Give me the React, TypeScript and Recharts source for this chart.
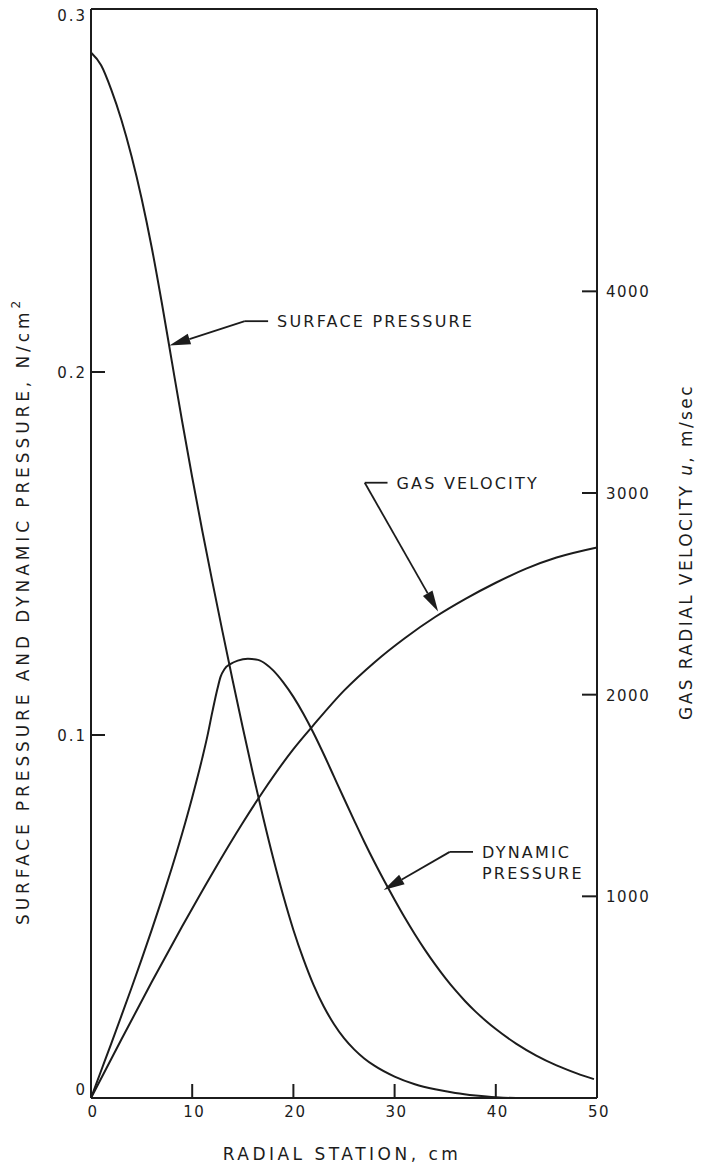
import { LineChart, Line, XAxis, YAxis, ReferenceLine } from "recharts";

const stationTicks = [0, 10, 20, 30, 40, 50];
const pressureTicks = [0, 0.1, 0.2, 0.3];
const velocityTicks = [1000, 2000, 3000, 4000];

// surface pressure, N/cm2
const surfaceX = [0, 1, 2, 3, 4, 5, 6, 7, 8, 9, 10, 11, 12, 13, 14, 15, 16, 17, 18, 19, 20, 21, 22, 23, 24, 25, 26, 27, 28, 30, 32, 34, 36, 38, 40, 42, 50];
const surfaceP = [0.288, 0.2845, 0.2778, 0.2695, 0.2595, 0.2478, 0.2343, 0.219, 0.2027, 0.1865, 0.171, 0.1562, 0.1421, 0.1284, 0.115, 0.102, 0.0894, 0.0774, 0.0661, 0.0557, 0.0463, 0.0382, 0.0311, 0.0252, 0.0204, 0.0165, 0.0134, 0.0109, 0.0089, 0.0059, 0.0038, 0.0024, 0.0014, 0.0007, 0.0002, 0, 0];

// dynamic pressure, N/cm2
const dynamicX = [0, 1, 2, 3, 4, 5, 6, 7, 8, 9, 10, 11, 11.5, 12, 12.5, 12.8, 13.2, 13.8, 14.5, 15.5, 16.5, 17.3, 18, 19, 20, 21, 22, 23, 24, 25, 26, 27, 28, 29, 30, 31, 32, 33, 34, 35, 36, 37, 38, 39, 40, 42, 44, 46, 48, 49.7];
const dynamicP = [0, 0.0075, 0.015, 0.0226, 0.0303, 0.0382, 0.0463, 0.0547, 0.0635, 0.0728, 0.0828, 0.0937, 0.0997, 0.1065, 0.1128, 0.116, 0.1182, 0.1196, 0.1205, 0.121, 0.1207, 0.1195, 0.1178, 0.1145, 0.1105, 0.1058, 0.1005, 0.0947, 0.0886, 0.0825, 0.0765, 0.0706, 0.065, 0.0597, 0.0546, 0.0497, 0.0451, 0.0408, 0.0368, 0.0331, 0.0297, 0.0266, 0.0238, 0.0213, 0.019, 0.015, 0.0117, 0.009, 0.0068, 0.0052];

// gas radial velocity, m/sec
const velocityX = [0, 3, 6, 9, 12, 15, 17, 20, 22, 25, 28, 31, 34, 37, 40, 43, 46, 50];
const velocityU = [0, 290, 575, 850, 1115, 1365, 1520, 1730, 1850, 2020, 2160, 2280, 2385, 2475, 2555, 2625, 2680, 2730];

const surface = surfaceX.map((x, i) => ({ x, p: surfaceP[i] }));
const dynamic = dynamicX.map((x, i) => ({ x, p: dynamicP[i] }));
const velocity = velocityX.map((x, i) => ({ x, u: velocityU[i] }));

const INK = "#1c1c1c";
const FONT = "'DejaVu Sans', sans-serif";
const txt = { fontFamily: FONT, fill: INK, stroke: "none" } as const;

const LeftTick = ({ x, y, payload }: any) => {
  const v = payload.value;
  const dy = v === 0.3 ? 7 : v === 0 ? -8 : 1;
  return (
    <text x={x + 3} y={y + dy} textAnchor="end" dominantBaseline="central" fontSize={15} letterSpacing={2} {...txt}>
      {v === 0 ? "0" : v.toFixed(1)}
    </text>
  );
};

const RightTick = ({ x, y, payload }: any) => (
  <text x={x} y={y + 1} textAnchor="start" dominantBaseline="central" fontSize={15} letterSpacing={1.5} {...txt}>
    {payload.value}
  </text>
);

const BottomTick = ({ x, y, payload }: any) => (
  <text x={x + 2} y={y + 6} textAnchor="middle" dominantBaseline="central" fontSize={15} letterSpacing={1.5} {...txt}>
    {payload.value}
  </text>
);

// inward tick marks, drawn from the reference line geometry
const leftMark = ({ x1, x2, y1 }: any) => {
  const a = Math.min(x1, x2);
  return <line x1={a} y1={y1} x2={a + 14} y2={y1} stroke={INK} strokeWidth={2} />;
};
const rightMark = ({ x1, x2, y1 }: any) => {
  const a = Math.max(x1, x2);
  return <line x1={a - 15} y1={y1} x2={a} y2={y1} stroke={INK} strokeWidth={2} />;
};
const bottomMark = ({ x1, y1, y2 }: any) => {
  const b = Math.max(y1, y2);
  return <line x1={x1} y1={b} x2={x1} y2={b - 14} stroke={INK} strokeWidth={2} />;
};

const Arrow = ({ x1, y1, x2, y2 }: any) => {
  const a = Math.atan2(y2 - y1, x2 - x1);
  const len = 21;
  const w = 5.5;
  const bx = x2 - len * Math.cos(a);
  const by = y2 - len * Math.sin(a);
  const px = -Math.sin(a) * w;
  const py = Math.cos(a) * w;
  return (
    <g>
      <line x1={x1} y1={y1} x2={bx} y2={by} stroke={INK} strokeWidth={1.8} />
      <polygon points={`${x2},${y2} ${bx + px},${by + py} ${bx - px},${by - py}`} fill={INK} />
    </g>
  );
};

const Tag = (lines: string[]) => ({ x1, y1, x2, y2 }: any) => (
  <g>
    <line x1={x1} y1={y1} x2={x2} y2={y2} stroke={INK} strokeWidth={1.8} />
    <text x={x2 + 9} y={y2} dominantBaseline="central" fontSize={16} letterSpacing={2.2} {...txt}>
      {lines.map((l, i) => (
        <tspan key={i} x={x2 + 9} dy={i === 0 ? 0 : 21}>
          {l}
        </tspan>
      ))}
    </text>
  </g>
);

export default function App() {
  return (
    <div style={{ position: "absolute", left: 0, top: 0, width: 707, height: 1167, background: "#fff" }}>
      <LineChart width={707} height={1167} margin={{ top: 9, right: 20, bottom: 39, left: 31 }}>
        <XAxis
          dataKey="x"
          type="number"
          domain={[0, 50]}
          ticks={stationTicks}
          tickSize={0}
          tickMargin={8}
          tickLine={false}
          height={30}
          axisLine={{ stroke: INK, strokeWidth: 2 }}
          tick={<BottomTick />}
          label={() => (
            <text x={342} y={1154} textAnchor="middle" dominantBaseline="central" fontSize={17} letterSpacing={3.5} {...txt}>
              RADIAL STATION, cm
            </text>
          )}
        />
        <YAxis
          yAxisId="left"
          type="number"
          domain={[0, 0.3]}
          ticks={pressureTicks}
          width={60}
          tickSize={0}
          tickMargin={7}
          tickLine={false}
          axisLine={{ stroke: INK, strokeWidth: 2 }}
          tick={<LeftTick />}
          label={() => (
            <text transform="translate(23,611) rotate(-90)" textAnchor="middle" dominantBaseline="central" fontSize={17} letterSpacing={3.9} {...txt}>
              SURFACE PRESSURE AND DYNAMIC PRESSURE, N/cm
              <tspan dy={-7} fontSize={12}>2</tspan>
            </text>
          )}
        />
        <YAxis
          yAxisId="right"
          orientation="right"
          type="number"
          domain={[0, 5400]}
          ticks={velocityTicks}
          width={90}
          tickSize={0}
          tickMargin={9}
          tickLine={false}
          axisLine={{ stroke: INK, strokeWidth: 2 }}
          tick={<RightTick />}
          label={() => (
            <text transform="translate(686,552) rotate(-90)" textAnchor="middle" dominantBaseline="central" fontSize={17} letterSpacing={2.4} {...txt}>
              GAS RADIAL VELOCITY <tspan fontStyle="italic">u</tspan>, m/sec
            </text>
          )}
        />
        <ReferenceLine yAxisId="left" y={0.3} stroke={INK} strokeWidth={2} />

        {pressureTicks.slice(1, -1).map((v) => (
          <ReferenceLine key={`l${v}`} yAxisId="left" y={v} shape={leftMark} />
        ))}
        {velocityTicks.map((v) => (
          <ReferenceLine key={`r${v}`} yAxisId="right" y={v} shape={rightMark} />
        ))}
        {stationTicks.slice(1, -1).map((v) => (
          <ReferenceLine key={`b${v}`} yAxisId="left" x={v} shape={bottomMark} />
        ))}

        <Line data={surface} dataKey="p" yAxisId="left" type="monotone" dot={false} activeDot={false} stroke={INK} strokeWidth={2} isAnimationActive={false} />
        <Line data={dynamic} dataKey="p" yAxisId="left" type="monotone" dot={false} activeDot={false} stroke={INK} strokeWidth={2} isAnimationActive={false} />
        <Line data={velocity} dataKey="u" yAxisId="right" type="monotone" dot={false} activeDot={false} stroke={INK} strokeWidth={2} isAnimationActive={false} />

        <ReferenceLine yAxisId="left" segment={[{ x: 15.2, y: 0.214 }, { x: 7.75, y: 0.2073 }]} shape={Arrow} />
        <ReferenceLine yAxisId="left" segment={[{ x: 15.2, y: 0.214 }, { x: 17.5, y: 0.214 }]} shape={Tag(["SURFACE PRESSURE"])} />

        <ReferenceLine yAxisId="left" segment={[{ x: 27.05, y: 0.1695 }, { x: 34.3, y: 0.134 }]} shape={Arrow} />
        <ReferenceLine yAxisId="left" segment={[{ x: 27.05, y: 0.1695 }, { x: 29.3, y: 0.1695 }]} shape={Tag(["GAS VELOCITY"])} />

        <ReferenceLine yAxisId="left" segment={[{ x: 35.45, y: 0.0678 }, { x: 28.92, y: 0.0573 }]} shape={Arrow} />
        <ReferenceLine yAxisId="left" segment={[{ x: 35.45, y: 0.0678 }, { x: 37.75, y: 0.0678 }]} shape={Tag(["DYNAMIC", "PRESSURE"])} />
      </LineChart>
    </div>
  );
}
